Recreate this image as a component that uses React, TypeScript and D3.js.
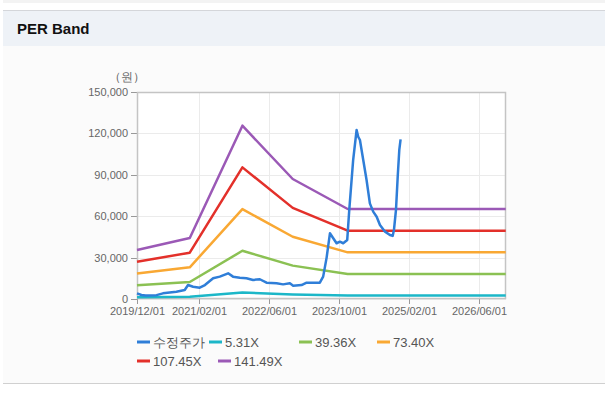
import React from "react";
import * as d3 from "d3";

// values
const bandDates = ["2019-12-01", "2020-12-01", "2021-12-01", "2022-11-15", "2023-12-01", "2026-12-01"];
const band531 = [1330, 1660, 4710, 3260, 2450, 2450];
const band3936 = [9880, 12300, 34940, 24190, 18140, 18140];
const band7340 = [18420, 22930, 65160, 45110, 33820, 33820];
const band10745 = [26960, 33570, 95380, 66040, 49510, 49510];
const band14149 = [35500, 44200, 125600, 86960, 65200, 65200];

const priceDates = [
  "2019-12-01", "2020-01-01", "2020-01-30", "2020-04-14", "2020-05-29", "2020-08-30",
  "2020-10-27", "2020-11-19", "2020-12-24", "2021-02-08", "2021-03-16", "2021-05-12",
  "2021-06-27", "2021-08-24", "2021-09-27", "2021-11-13", "2021-12-29", "2022-02-13",
  "2022-04-01", "2022-05-17", "2022-07-26", "2022-09-09", "2022-10-26", "2022-11-18",
  "2023-01-15", "2023-02-19", "2023-05-22", "2023-06-14", "2023-07-08", "2023-07-31",
  "2023-08-23", "2023-09-15", "2023-10-08", "2023-10-31", "2023-11-28", "2023-12-12",
  "2024-01-08", "2024-02-01", "2024-02-12", "2024-02-24", "2024-03-18", "2024-04-10",
  "2024-05-03", "2024-05-26", "2024-06-19", "2024-07-12", "2024-08-16", "2024-09-19",
  "2024-10-08", "2024-10-17", "2024-10-31", "2024-11-12", "2024-11-23", "2024-12-02",
];
const priceValues = [
  4100, 2900, 2600, 2800, 4100, 5300,
  6500, 10100, 8900, 8200, 10100, 15000,
  16200, 18600, 16200, 15400, 15000, 13800,
  14300, 11800, 11400, 10600, 11400, 9600,
  10100, 11800, 11800, 16200, 30000, 47600,
  44000, 40400, 41500, 40400, 42800, 64500,
  100700, 122500, 117600, 115200, 100700, 86200,
  69300, 63300, 59600, 53600, 48800, 46400,
  45700, 50000, 64500, 88600, 108000, 115700,
];

const seriesNames = ["수정주가", "5.31X", "39.36X", "73.40X", "107.45X", "141.49X"];
const seriesColors = ["#2f7ed8", "#1cb7c8", "#8bc153", "#f9a833", "#e3302a", "#9b59b6"];
const yTicks = [0, 30000, 60000, 90000, 120000, 150000];
const xTickDates = ["2019-12-01", "2021-02-01", "2022-06-01", "2023-10-01", "2025-02-01", "2026-06-01"];

// legend layout (row, x)
const legendPos = [
  [0, 137], [0, 209], [0, 299], [0, 377],
  [1, 137], [1, 218],
];

const W = 608;
const H = 398;
const plot = { left: 137, right: 506, top: 92, bottom: 299 };

const parse = d3.timeParse("%Y-%m-%d");

export default function App() {
  const x = d3.scaleTime()
    .domain([parse("2019-12-01")!, parse("2026-12-03")!])
    .range([plot.left, plot.right]);
  const y = d3.scaleLinear().domain([0, 150000]).range([plot.bottom, plot.top]);

  const line = d3.line<[Date, number]>()
    .x((d) => x(d[0]))
    .y((d) => y(d[1]));

  const bands = [band531, band3936, band7340, band10745, band14149].map((vals) =>
    bandDates.map((d, i) => [parse(d)!, vals[i]] as [Date, number])
  );
  const price = priceDates.map((d, i) => [parse(d)!, priceValues[i]] as [Date, number]);
  const paths = [price, ...bands];
  const drawOrder = [1, 2, 3, 4, 5, 0];

  const fmtY = d3.format(",");
  const fmtX = d3.timeFormat("%Y/%m/%d");
  const font = "'Liberation Sans', Arial, sans-serif";

  return (
    <div style={{ position: "fixed", left: 0, top: 0 }}>
      <svg width={W} height={H} style={{ display: "block", background: "#fff" }}>
        {/* panel */}
        <rect x={3} y={0} width={602} height={3} fill="#f3f3f3" />
        <rect x={3} y={10} width={602} height={374} fill="#fbfbfb" />
        <rect x={3} y={10} width={602} height={36} fill="#eef2f7" />
        <line x1={3} x2={605} y1={10.5} y2={10.5} stroke="#d4d6da" />
        <line x1={3} x2={605} y1={383.5} y2={383.5} stroke="#d0d0d0" />
        <text x={17} y={34} fontFamily={font} fontWeight="bold" fontSize={15} fill="#111">
          PER Band
        </text>

        {/* plot area */}
        <rect x={plot.left} y={plot.top} width={plot.right - plot.left} height={plot.bottom - plot.top} fill="#fff" />
        {yTicks.map((t) => (
          <g key={"y" + t}>
            <line x1={plot.left} x2={plot.right} y1={Math.round(y(t)) + 0.5} y2={Math.round(y(t)) + 0.5} stroke="#ebebeb" />
            <line x1={131} x2={plot.left} y1={Math.round(y(t)) + 0.5} y2={Math.round(y(t)) + 0.5} stroke="#999" />
            <text x={128} y={y(t) + 4} textAnchor="end" fontFamily={font} fontSize={11} fill="#666">
              {fmtY(t)}
            </text>
          </g>
        ))}
        {xTickDates.map((s) => {
          const xx = Math.round(x(parse(s)!)) + 0.5;
          return (
            <g key={"x" + s}>
              <line x1={xx} x2={xx} y1={plot.top} y2={plot.bottom} stroke="#ebebeb" />
              <line x1={xx} x2={xx} y1={plot.bottom} y2={plot.bottom + 5} stroke="#999" />
              <text x={xx} y={plot.bottom + 16} textAnchor="middle" fontFamily={font} fontSize={11} fill="#666">
                {fmtX(parse(s)!)}
              </text>
            </g>
          );
        })}
        <rect
          x={plot.left + 0.5}
          y={plot.top + 0.5}
          width={plot.right - plot.left - 1}
          height={plot.bottom - plot.top - 1}
          fill="none"
          stroke="#c4c4c4"
          strokeWidth={1.5}
        />
        <text x={127} y={81} textAnchor="middle" fontFamily={font} fontSize={12} fill="#666">
          （원）
        </text>

        {/* lines */}
        {drawOrder.map((i) => (
          <path
            key={"p" + i}
            d={line(paths[i]) || ""}
            fill="none"
            stroke={seriesColors[i]}
            strokeWidth={2.5}
            strokeLinejoin="round"
          />
        ))}

        {/* legend */}
        {seriesNames.map((name, i) => {
          const [row, lx] = legendPos[i];
          const ly = 342 + row * 19;
          return (
            <g key={"l" + i}>
              <line x1={lx} x2={lx + 13} y1={ly} y2={ly} stroke={seriesColors[i]} strokeWidth={3} />
              <text x={lx + 16} y={ly + 5} fontFamily={font} fontSize={13} fill="#555">
                {name}
              </text>
            </g>
          );
        })}
      </svg>
    </div>
  );
}
